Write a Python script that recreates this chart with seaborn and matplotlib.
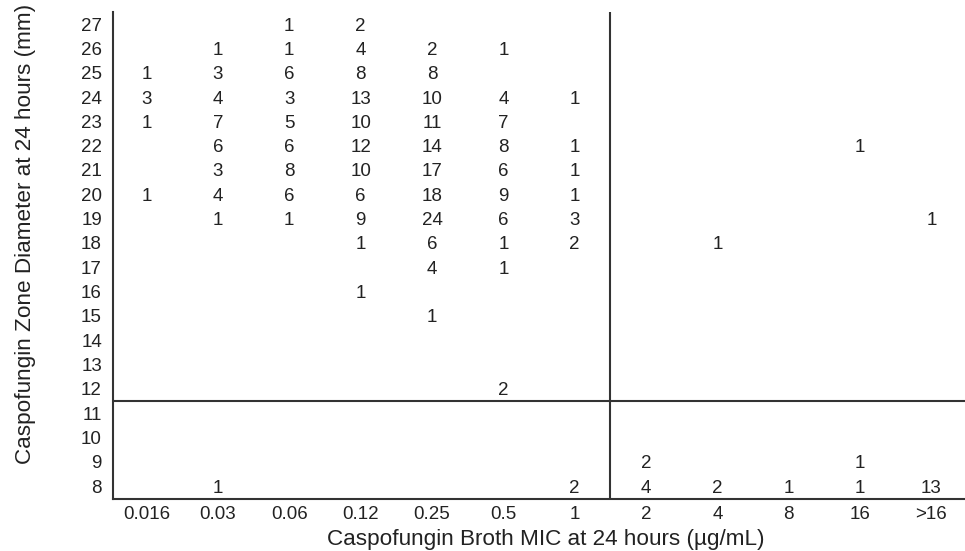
import numpy as np
import pandas as pd
import matplotlib
matplotlib.use("Agg")
import matplotlib.pyplot as plt
from matplotlib.colors import ListedColormap
import seaborn as sns

mic_labels = ["0.016", "0.03", "0.06", "0.12", "0.25", "0.5", "1", "2", "4", "8", "16", ">16"]
zone_labels = [27, 26, 25, 24, 23, 22, 21, 20, 19, 18, 17, 16, 15, 14, 13, 12, 11, 10, 9, 8]

# counts per zone row (27 -> 8), columns follow mic_labels
row_27 = [0, 0, 1, 2, 0, 0, 0, 0, 0, 0, 0, 0]
row_26 = [0, 1, 1, 4, 2, 1, 0, 0, 0, 0, 0, 0]
row_25 = [1, 3, 6, 8, 8, 0, 0, 0, 0, 0, 0, 0]
row_24 = [3, 4, 3, 13, 10, 4, 1, 0, 0, 0, 0, 0]
row_23 = [1, 7, 5, 10, 11, 7, 0, 0, 0, 0, 0, 0]
row_22 = [0, 6, 6, 12, 14, 8, 1, 0, 0, 0, 1, 0]
row_21 = [0, 3, 8, 10, 17, 6, 1, 0, 0, 0, 0, 0]
row_20 = [1, 4, 6, 6, 18, 9, 1, 0, 0, 0, 0, 0]
row_19 = [0, 1, 1, 9, 24, 6, 3, 0, 0, 0, 0, 1]
row_18 = [0, 0, 0, 1, 6, 1, 2, 0, 1, 0, 0, 0]
row_17 = [0, 0, 0, 0, 4, 1, 0, 0, 0, 0, 0, 0]
row_16 = [0, 0, 0, 1, 0, 0, 0, 0, 0, 0, 0, 0]
row_15 = [0, 0, 0, 0, 1, 0, 0, 0, 0, 0, 0, 0]
row_14 = [0] * 12
row_13 = [0] * 12
row_12 = [0, 0, 0, 0, 0, 2, 0, 0, 0, 0, 0, 0]
row_11 = [0] * 12
row_10 = [0] * 12
row_9 = [0, 0, 0, 0, 0, 0, 0, 2, 0, 0, 1, 0]
row_8 = [0, 1, 0, 0, 0, 0, 2, 4, 2, 1, 1, 13]

rows = [row_27, row_26, row_25, row_24, row_23, row_22, row_21, row_20, row_19,
        row_18, row_17, row_16, row_15, row_14, row_13, row_12, row_11, row_10,
        row_9, row_8]
df = pd.DataFrame(rows, index=zone_labels, columns=mic_labels)

sns.set_style("white")
plt.rcParams["font.family"] = ["Liberation Sans", "DejaVu Sans"]

W, H = 965, 551
fig = plt.figure(figsize=(W / 100, H / 100), dpi=100)
ax = fig.add_axes([113 / W, (H - 499) / H, (W - 113) / W, (499 - 12) / H])

txt = "#222222"
fs = 13.5
sns.heatmap(df, mask=(df == 0), annot=True, fmt="d", cmap=ListedColormap(["white"]),
            cbar=False, ax=ax, annot_kws={"fontsize": fs, "color": txt})

ax.set_xlim(0.03, 11.97)
ax.set_ylim(19.95, -0.08)

line_c = "#333333"
ax.axhline(15.9, color=line_c, lw=1.5)
ax.axvline(7.0, color=line_c, lw=1.5)

for s in ["top", "right"]:
    ax.spines[s].set_visible(False)
for s in ["left", "bottom"]:
    ax.spines[s].set_visible(True)
    ax.spines[s].set_color(line_c)
    ax.spines[s].set_linewidth(1.5)

ax.set_xticks(np.arange(len(mic_labels)) + 0.5)
ax.set_xticklabels(mic_labels, rotation=0, fontsize=fs, color=txt)
ax.set_yticks(np.arange(len(zone_labels)) + 0.5)
ax.set_yticklabels([str(z) for z in zone_labels], rotation=0, fontsize=fs, color=txt)
ax.tick_params(axis="both", length=0)
ax.tick_params(axis="x", pad=5)
ax.tick_params(axis="y", pad=8)

ax.set_xlabel("Caspofungin Broth MIC at 24 hours (µg/mL)", fontsize=16.2, color=txt)
ax.set_ylabel("Caspofungin Zone Diameter at 24 hours (mm)", fontsize=16.2, color=txt)
ax.xaxis.set_label_coords((546 - 113) / 852, (499 - 529) / 487)
ax.yaxis.set_label_coords((36 - 113) / 852, (499 - 234) / 487)

fig.savefig("out.png", dpi=100)
